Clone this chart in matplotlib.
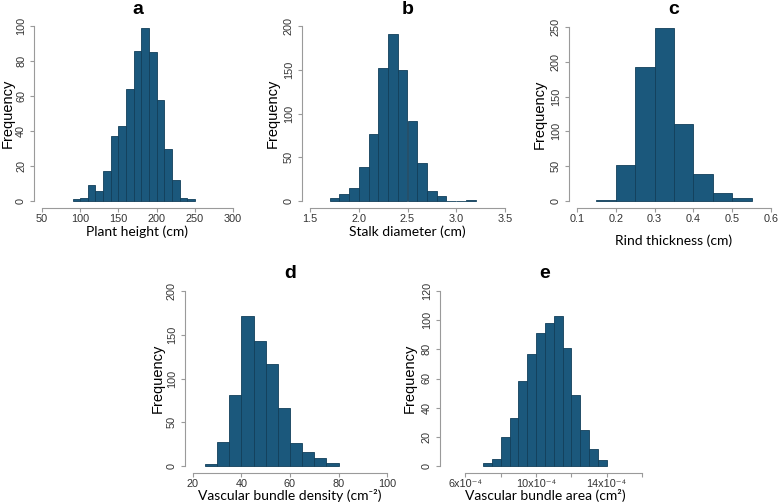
import numpy as np
import matplotlib
matplotlib.use('Agg')
import matplotlib.pyplot as plt

# histogram counts
height_edges = np.arange(90, 251, 10)
height_counts = [1, 2, 9, 6, 17, 37, 43, 64, 86, 99, 85, 58, 30, 12, 2, 1]

stalk_edges = np.round(np.arange(1.7, 3.21, 0.1), 2)
stalk_counts = [3, 8, 15, 39, 77, 152, 191, 150, 92, 43, 11, 6, 0, 0, 1]

rind_edges = np.round(np.arange(0.15, 0.551, 0.05), 2)
rind_counts = [2, 52, 193, 248, 110, 39, 12, 5]

density_edges = np.arange(25, 81, 5)
density_counts = [2, 27, 81, 171, 143, 117, 66, 26, 16, 9, 3]

area_edges = np.arange(7.0, 14.01, 0.5) * 1e-4
area_counts = [2, 5, 20, 33, 58, 77, 91, 98, 103, 81, 49, 25, 12, 4]

W, H = 778, 504
BAR = '#1b587c'
EDGE = '#123f5a'
AXC = '#9a9a9a'
TXT = '#333333'

fig = plt.figure(figsize=(W / 100, H / 100), dpi=100)


def panel(x0, x1, y0, y1, edges, counts, xlim, ylim, xticks, yticks,
          letter, xlabel, xlab_y, ylab_x, xticklabels=None, xpad=1.5):
    ax = fig.add_axes([x0 / W, 1 - y1 / H, (x1 - x0) / W, (y1 - y0) / H])
    edges = np.asarray(edges)
    ax.bar(edges[:-1], counts, width=np.diff(edges), align='edge',
           color=BAR, edgecolor=EDGE, linewidth=0.6)
    xr = xlim[1] - xlim[0]
    yr = ylim[1] - ylim[0]
    ax.set_xlim(xlim[0] - 0.04 * xr, xlim[1] + 0.04 * xr)
    ax.set_ylim(ylim[0] - 0.04 * yr, ylim[1] + 0.04 * yr)
    for s in ['top', 'right']:
        ax.spines[s].set_visible(False)
    ax.spines['left'].set_bounds(yticks[0], yticks[-1])
    ax.spines['bottom'].set_bounds(xticks[0], xticks[-1])
    for s in ['left', 'bottom']:
        ax.spines[s].set_color(AXC)
        ax.spines[s].set_linewidth(0.8)
    ax.set_xticks(xticks)
    ax.set_yticks(yticks)
    if xticklabels is not None:
        ax.set_xticklabels(xticklabels)
    ax.tick_params(length=3, width=0.8, color=AXC, labelcolor=TXT,
                   labelsize=7.8, pad=xpad)
    ax.tick_params(axis='y', labelrotation=90, pad=3)
    for t in ax.get_yticklabels():
        t.set_va('center')
    for t in ax.get_xticklabels() + ax.get_yticklabels():
        t.set_family(['Liberation Sans', 'DejaVu Sans'])
    ax.patch.set_visible(False)
    cx = (x0 + x1) / 2
    fig.text(cx / W, 1 - (y0 - 10) / H, letter, ha='center', va='center',
             fontsize=14, fontweight='bold', family='Liberation Sans')
    fig.text(cx / W, 1 - xlab_y / H, xlabel, ha='center', va='center',
             fontsize=10, family=['Lato', 'DejaVu Sans'])
    fig.text(ylab_x / W, 1 - (y0 + y1) / 2 / H, 'Frequency', ha='center',
             va='center', rotation=90, fontsize=10.5, family='Liberation Sans')
    return ax


panel(34.4, 240.6, 19, 208, height_edges, height_counts, (50, 300), (0, 100),
      np.arange(50, 301, 50), np.arange(0, 101, 20),
      'a', 'Plant height (cm)', 232, 8)
panel(302.2, 512.8, 19, 208, stalk_edges, stalk_counts, (1.5, 3.5), (0, 200),
      [1.5, 2.0, 2.5, 3.0, 3.5], np.arange(0, 201, 50),
      'b', 'Stalk diameter (cm)', 232, 273)
panel(569, 779, 20, 208, rind_edges, rind_counts, (0.1, 0.6), (0, 250),
      [0.1, 0.2, 0.3, 0.4, 0.5, 0.6], np.arange(0, 251, 50),
      'c', 'Rind thickness (cm)', 241, 540)
panel(185.2, 394.8, 284, 473, density_edges, density_counts, (20, 100), (0, 200),
      np.arange(20, 101, 20), np.arange(0, 201, 50),
      'd', 'Vascular bundle density (cm\u207b\u00b2)', 496, 158, xpad=1)
panel(440, 649.7, 284, 473, area_edges, area_counts, (5e-4, 16e-4), (0, 120),
      np.arange(6, 16.1, 2) * 1e-4, np.arange(0, 121, 20),
      'e', 'Vascular bundle area (cm\u00b2)', 496, 410,
      xticklabels=['6x10\u207b\u2074', '', '10x10\u207b\u2074', '',
                   '14x10\u207b\u2074', ''], xpad=1)

fig.savefig('out.png', dpi=100)
